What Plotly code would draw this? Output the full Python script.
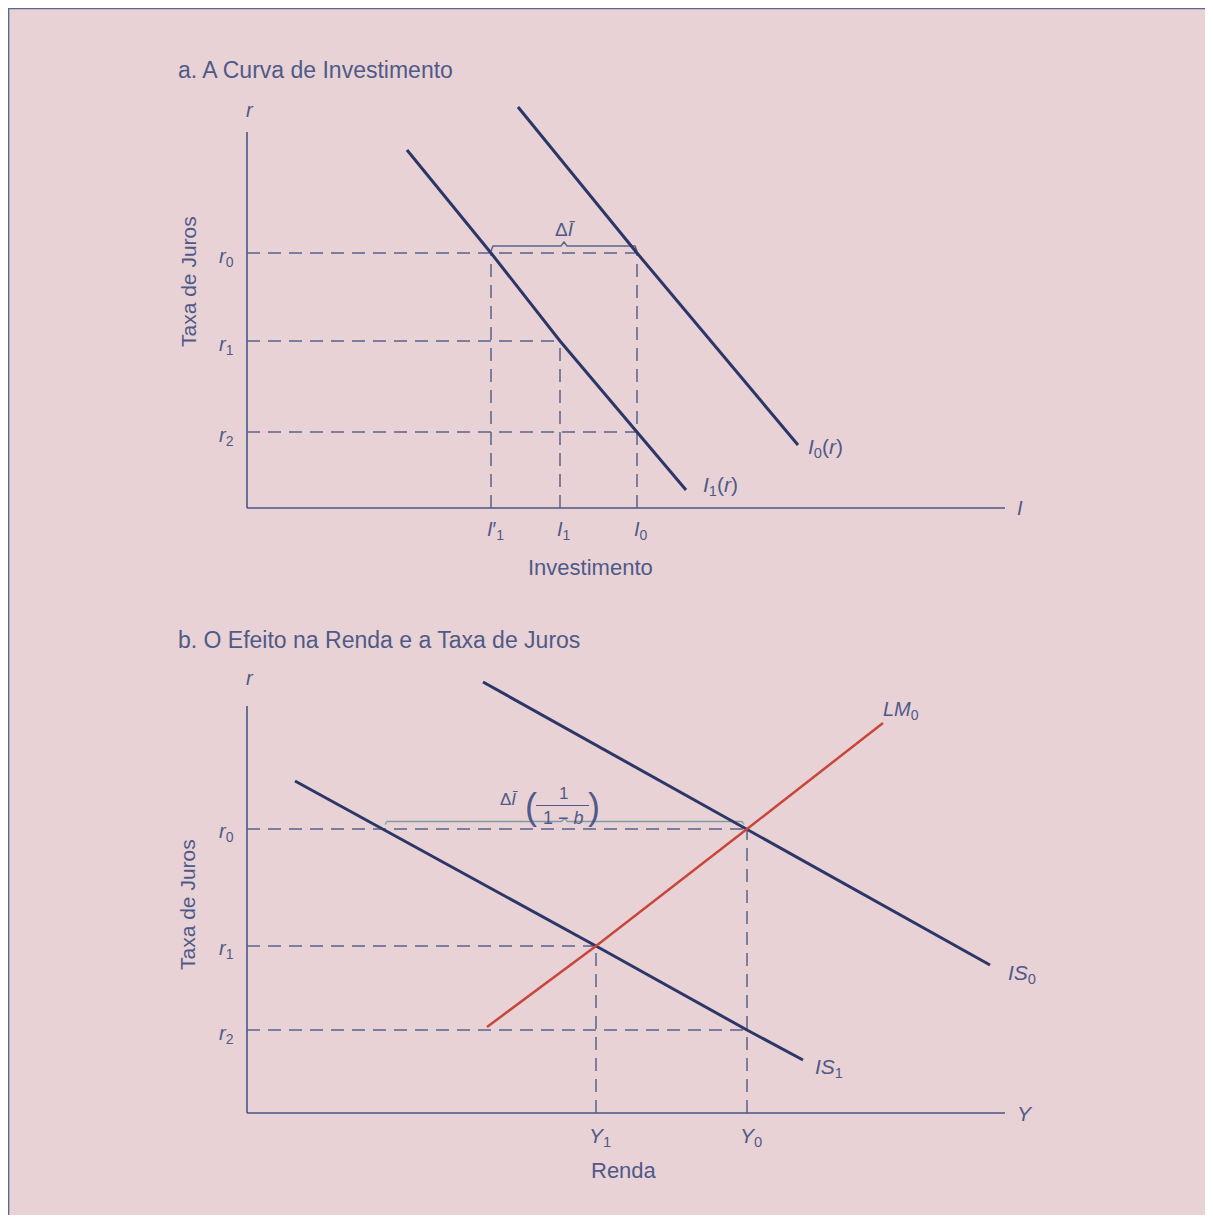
import plotly.graph_objects as go

# ---------------- Panel a: investment curve (arbitrary units) ----------------
r_levels_a = [25.5, 16.7, 7.6]          # r0, r1, r2
r_labels = ["<i>r</i><sub>0</sub>", "<i>r</i><sub>1</sub>", "<i>r</i><sub>2</sub>"]
I_levels = [24.4, 31.3, 39.0]           # I'1, I1, I0
I_labels = ["<i>I</i>′<sub>1</sub>", "<i>I</i><sub>1</sub>", "<i>I</i><sub>0</sub>"]
I1_x = [16.0, 24.4, 31.3, 39.0, 43.9]
I1_y = [35.8, 25.5, 16.7, 7.6, 1.8]
I0_x = [27.1, 39.0, 55.1]
I0_y = [40.1, 25.5, 6.3]
axis_a_xmax, axis_a_ymax = 75.8, 37.6

# ---------------- Panel b: income and interest rate ----------------
r_levels_b = [28.4, 16.7, 8.3]          # r0, r1, r2
Y_levels = [34.9, 50.0]                 # Y1, Y0
Y_labels = ["<i>Y</i><sub>1</sub>", "<i>Y</i><sub>0</sub>"]
IS0_x = [23.6, 50.0, 74.3]
IS0_y = [43.1, 28.4, 14.8]
IS1_x = [4.8, 34.9, 50.0, 55.6]
IS1_y = [33.2, 16.7, 8.3, 5.3]
LM0_x = [24.0, 34.9, 50.0, 63.6]
LM0_y = [8.6, 16.7, 28.4, 39.0]
IS1_at_r0 = 13.8
axis_b_xmax, axis_b_ymax = 75.8, 40.7

# figure fits inside the page's 8px body margin
W, H = 1197, 1207
OFF = 8
BG = "#e9d2d6"
NAVY = "#2d3767"
AXC = "#4a5585"
DASHC = "#58638f"
TXT = "#4f5a88"
RED = "#c8463c"
FONT = "Liberation Sans, Arial, sans-serif"

fig = go.Figure()

def line(x, y, xa, ya, color, width, dash=None):
    fig.add_trace(go.Scatter(x=x, y=y, xaxis=xa, yaxis=ya, mode="lines",
                             line=dict(color=color, width=width, dash=dash),
                             hoverinfo="skip", showlegend=False))

DASH = "13px,8px"

# ---- panel a ----
xa, ya = "x", "y"
line([0, axis_a_xmax], [0, 0], xa, ya, AXC, 1.6)
line([0, 0], [0, axis_a_ymax], xa, ya, AXC, 1.6)
line([0, I_levels[2]], [r_levels_a[0]] * 2, xa, ya, DASHC, 1.5, DASH)
line([0, I_levels[1]], [r_levels_a[1]] * 2, xa, ya, DASHC, 1.5, DASH)
line([0, I_levels[2]], [r_levels_a[2]] * 2, xa, ya, DASHC, 1.5, DASH)
line([I_levels[0]] * 2, [0, r_levels_a[0]], xa, ya, DASHC, 1.5, DASH)
line([I_levels[1]] * 2, [0, r_levels_a[1]], xa, ya, DASHC, 1.5, DASH)
line([I_levels[2]] * 2, [0, r_levels_a[0]], xa, ya, DASHC, 1.5, DASH)
lo, hi = I_levels[0], I_levels[2]
mid = (lo + hi) / 2
by = r_levels_a[0] + 0.7
line([lo, lo + 0.2, mid - 0.3, mid, mid + 0.3, hi - 0.2, hi],
     [by - 0.5, by, by, by + 0.4, by, by, by - 0.5], xa, ya, "#5a6688", 1.5)
line(I1_x, I1_y, xa, ya, NAVY, 3)
line(I0_x, I0_y, xa, ya, NAVY, 3)

# ---- panel b ----
xb, yb = "x2", "y2"
line([0, axis_b_xmax], [0, 0], xb, yb, AXC, 1.6)
line([0, 0], [0, axis_b_ymax], xb, yb, AXC, 1.6)
line([0, Y_levels[1]], [r_levels_b[0]] * 2, xb, yb, DASHC, 1.5, DASH)
line([0, Y_levels[0]], [r_levels_b[1]] * 2, xb, yb, DASHC, 1.5, DASH)
line([0, Y_levels[1]], [r_levels_b[2]] * 2, xb, yb, DASHC, 1.5, DASH)
line([Y_levels[0]] * 2, [0, r_levels_b[1]], xb, yb, DASHC, 1.5, DASH)
line([Y_levels[1]] * 2, [0, r_levels_b[0]], xb, yb, DASHC, 1.5, DASH)
lo, hi = IS1_at_r0, Y_levels[1] - 0.3
mid = (lo + hi) / 2
by = r_levels_b[0] + 0.75
line([lo, lo + 0.2, mid - 0.3, mid, mid + 0.3, hi - 0.2, hi],
     [by - 0.3, by, by, by + 0.3, by, by, by - 0.3], xb, yb, "#7e9ca6", 1.3)
line(IS1_x, IS1_y, xb, yb, NAVY, 3)
line(IS0_x, IS0_y, xb, yb, NAVY, 3)
line(LM0_x, LM0_y, xb, yb, RED, 2.5)

# ---------------- text ----------------
ann = []

def text(x, y, s, xr, yr, size=20, xanchor="center", yanchor="middle", angle=0, color=TXT):
    ann.append(dict(x=x, y=y, xref=xr, yref=yr, text=s, showarrow=False,
                    xanchor=xanchor, yanchor=yanchor, textangle=angle,
                    font=dict(family=FONT, size=size, color=color)))

# panel a
text(-7.1, 43.8, "a. A Curva de Investimento", "x", "y", size=23, xanchor="left")
text(0.3, 39.8, "<i>r</i>", "x", "y", size=20)
text(76.8, 0, "<i>I</i>", "x", "y", size=20, xanchor="left")
for rv, lab in zip(r_levels_a, r_labels):
    text(-1.1, rv - 0.4, lab, "x", "y", size=20, xanchor="right")
for iv, lab in zip(I_levels, I_labels):
    text(iv + 0.4, -2.2, lab, "x", "y", size=20)
text(34.3, -5.9, "Investimento", "x", "y", size=22)
text(-5.9, 22.6, "Taxa de Juros", "x", "y", size=21, angle=-90)
text(31.8, 27.9, "Δ<i>Ī</i>", "x", "y", size=19)
text(45.4, 2.2, "<i>I</i><sub>1</sub>(<i>r</i>)", "x", "y", size=21, xanchor="left")
text(55.9, 6.0, "<i>I</i><sub>0</sub>(<i>r</i>)", "x", "y", size=21, xanchor="left")

# panel b
text(-7.1, 47.3, "b. O Efeito na Renda e a Taxa de Juros", "x2", "y2", size=23, xanchor="left")
text(0.3, 43.5, "<i>r</i>", "x2", "y2", size=20)
text(76.8, 0, "<i>Y</i>", "x2", "y2", size=21, xanchor="left")
for rv, lab in zip(r_levels_b, r_labels):
    text(-1.1, rv - 0.4, lab, "x2", "y2", size=20, xanchor="right")
for yv, lab in zip(Y_levels, Y_labels):
    text(yv + 0.4, -2.4, lab, "x2", "y2", size=21)
text(37.7, -5.7, "Renda", "x2", "y2", size=22)
text(-5.9, 20.8, "Taxa de Juros", "x2", "y2", size=21, angle=-90)
text(75.9, 13.9, "<i>IS</i><sub>0</sub>", "x2", "y2", size=21, xanchor="left")
text(56.6, 4.5, "<i>IS</i><sub>1</sub>", "x2", "y2", size=21, xanchor="left")
text(63.4, 40.2, "<i>LM</i><sub>0</sub>", "x2", "y2", size=20, xanchor="left")
# ΔĪ (1 / (1 - b))
text(27.3, 31.3, "Δ<i>Ī</i>", "x2", "y2", size=17, xanchor="right")
text(28.4, 30.6, "(", "x2", "y2", size=36)
text(31.6, 31.9, "1", "x2", "y2", size=17)
text(31.6, 29.5, "1 − <i>b</i>", "x2", "y2", size=18)
text(34.7, 30.6, ")", "x2", "y2", size=36)
line([28.9, 34.2], [30.75, 30.75], "x2", "y2", TXT, 1.2)

# ---------------- layout (page px = figure px + OFF) ----------------
split = 600 - OFF
ax_common = dict(visible=False, showgrid=False, zeroline=False, fixedrange=True)
fig.update_layout(
    width=W, height=H,
    margin=dict(l=0, r=0, t=0, b=0),
    paper_bgcolor=BG,
    plot_bgcolor="rgba(0,0,0,0)",
    showlegend=False,
    xaxis=dict(domain=[0, 1], range=[(OFF - 247) / 10, (OFF + W - 247) / 10], anchor="y", **ax_common),
    yaxis=dict(domain=[1 - split / H, 1.0], range=[(508 - 600) / 10, (508 - OFF) / 10], anchor="x", **ax_common),
    xaxis2=dict(domain=[0, 1], range=[(OFF - 247) / 10, (OFF + W - 247) / 10], anchor="y2", **ax_common),
    yaxis2=dict(domain=[0.0, 1 - split / H], range=[(1113 - OFF - H) / 10, (1113 - 600) / 10], anchor="x2", **ax_common),
    annotations=ann,
    shapes=[dict(type="rect", xref="paper", yref="paper",
                 x0=0.6 / W, x1=1.05, y0=-0.05, y1=1 - 0.6 / H,
                 fillcolor=BG, line=dict(color="#5c6890", width=1.5), layer="below")],
)

fig.write_html("out.html")
